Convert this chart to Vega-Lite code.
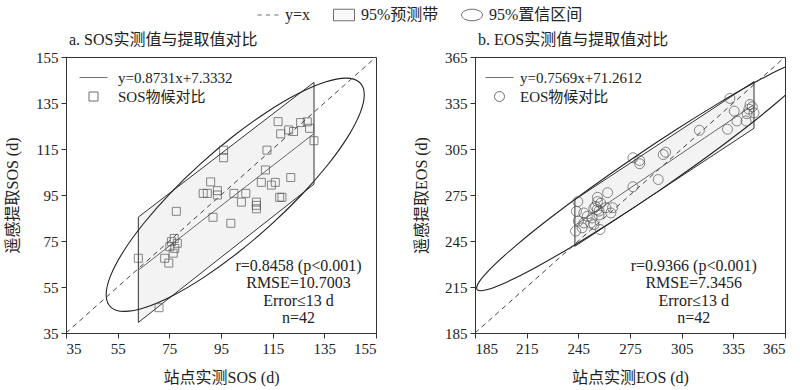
{
"$schema": "https://vega.github.io/schema/vega-lite/v6.json",
"padding": {"left": 4, "top": 4, "right": 2, "bottom": 2},
"background": "white",
"datasets": {
"sos": [{"x":63,"y":67.5},{"x":71,"y":46},{"x":74.8,"y":65.4},{"x":73.2,"y":67.5},{"x":76.5,"y":69.7},{"x":76.9,"y":76.1},{"x":78.1,"y":74},{"x":75.8,"y":74.7},{"x":77.1,"y":71.8},{"x":75.2,"y":72.5},{"x":77.7,"y":87.9},{"x":91.9,"y":85.3},{"x":98.8,"y":82.7},{"x":88.1,"y":95.7},{"x":89.7,"y":95.7},{"x":91,"y":100.7},{"x":93.6,"y":96.9},{"x":93.6,"y":95},{"x":100,"y":95.7},{"x":104.6,"y":95.7},{"x":102.9,"y":91.9},{"x":108.7,"y":91.9},{"x":108.7,"y":90.5},{"x":108.7,"y":89},{"x":110.6,"y":100.5},{"x":112.2,"y":105.9},{"x":112.8,"y":114.5},{"x":114.5,"y":99.3},{"x":116,"y":100.5},{"x":117.7,"y":94},{"x":118.6,"y":94},{"x":122,"y":102.6},{"x":96,"y":114.5},{"x":96,"y":111.2},{"x":117.1,"y":126.9},{"x":118.1,"y":121.6},{"x":121.2,"y":123.3},{"x":123.1,"y":122.6},{"x":125.8,"y":126.5},{"x":128.4,"y":126.8},{"x":129.3,"y":124},{"x":131,"y":118.6}],
"eos": [{"x":333,"y":338},{"x":335.5,"y":329.7},{"x":344.7,"y":334},{"x":344,"y":331},{"x":346,"y":332.5},{"x":347,"y":328.5},{"x":343,"y":328},{"x":337.1,"y":323.3},{"x":342.4,"y":323.3},{"x":331.6,"y":317.9},{"x":315.3,"y":317.2},{"x":294.3,"y":301.4},{"x":295.7,"y":302.9},{"x":276.7,"y":299.3},{"x":280.6,"y":297.5},{"x":280.6,"y":295.4},{"x":291.4,"y":285.1},{"x":276.7,"y":280.4},{"x":262,"y":276.5},{"x":256.1,"y":273.5},{"x":244.7,"y":270.7},{"x":243.9,"y":264.3},{"x":243.4,"y":251.4},{"x":247.2,"y":253.6},{"x":248.2,"y":263.3},{"x":252.2,"y":256.8},{"x":254,"y":266.5},{"x":255,"y":267.5},{"x":256,"y":265.5},{"x":257,"y":264.5},{"x":258,"y":269.7},{"x":257.6,"y":252.5},{"x":254.1,"y":255.7},{"x":261,"y":266.7},{"x":263.9,"y":263.3},{"x":264.9,"y":266.7},{"x":250.2,"y":261.1},{"x":248.2,"y":256.8},{"x":256.1,"y":270.7},{"x":245,"y":258},{"x":253,"y":260},{"x":257,"y":262}],
"ellA": [{"t":0,"x":148.58,"y":144.03},{"t":1,"x":143.43,"y":145.81},{"t":2,"x":135.36,"y":144.13},{"t":3,"x":124.92,"y":139.12},{"t":4,"x":112.81,"y":131.11},{"t":5,"x":99.85,"y":120.63},{"t":6,"x":86.95,"y":108.42},{"t":7,"x":74.97,"y":95.31},{"t":8,"x":64.73,"y":82.17},{"t":9,"x":56.92,"y":69.92},{"t":10,"x":52.08,"y":59.39},{"t":11,"x":50.55,"y":51.29},{"t":12,"x":52.42,"y":46.17},{"t":13,"x":57.57,"y":44.39},{"t":14,"x":65.64,"y":46.07},{"t":15,"x":76.08,"y":51.08},{"t":16,"x":88.19,"y":59.09},{"t":17,"x":101.15,"y":69.57},{"t":18,"x":114.05,"y":81.78},{"t":19,"x":126.03,"y":94.89},{"t":20,"x":136.27,"y":108.03},{"t":21,"x":144.08,"y":120.28},{"t":22,"x":148.92,"y":130.81},{"t":23,"x":150.45,"y":138.91}],
"ellB": [{"t":0,"x":381.78,"y":363.12},{"t":1,"x":376.4,"y":363.24},{"t":2,"x":364.72,"y":358.24},{"t":3,"x":347.55,"y":348.48},{"t":4,"x":326.04,"y":334.6},{"t":5,"x":301.67,"y":317.56},{"t":6,"x":276.09,"y":298.52},{"t":7,"x":251.05,"y":278.78},{"t":8,"x":228.26,"y":259.68},{"t":9,"x":209.27,"y":242.52},{"t":10,"x":195.36,"y":228.48},{"t":11,"x":187.5,"y":218.5},{"t":12,"x":186.22,"y":213.28},{"t":13,"x":191.6,"y":213.16},{"t":14,"x":203.28,"y":218.16},{"t":15,"x":220.45,"y":227.92},{"t":16,"x":241.96,"y":241.8},{"t":17,"x":266.33,"y":258.84},{"t":18,"x":291.91,"y":277.88},{"t":19,"x":316.95,"y":297.62},{"t":20,"x":339.74,"y":316.72},{"t":21,"x":358.73,"y":333.88},{"t":22,"x":372.64,"y":347.92},{"t":23,"x":380.5,"y":357.9}],
"bandA": [{"x":63,"y":85.4,"lo":39.6},{"x":131,"y":144,"lo":99.7}],
"bandB": [{"x":243,"y":272,"lo":241.5},{"x":347,"y":349,"lo":318.5}],
"regA": [{"x":63,"y":62.34},{"x":131,"y":121.71}],
"regB": [{"x":243,"y":255.19},{"x":347,"y":333.98}],
"diagA": [{"x":35,"y":35},{"x":155,"y":155}],
"diagB": [{"x":185,"y":185},{"x":365,"y":365}],
"keys": [{"k":"y=x"},{"k":"95%预测带"},{"k":"95%置信区间"}],
"annA": [{"t":"r=0.8458 (p<0.001)"}],
"annA2": [{"t":"RMSE=10.7003"}],
"annA3": [{"t":"Error≤13 d"}],
"annA4": [{"t":"n=42"}],
"annB": [{"t":"r=0.9366 (p<0.001)"}],
"annB2": [{"t":"RMSE=7.3456"}]
},
"vconcat": [
{
"width": 1, "height": 1,
"view": {"stroke": null},
"data": {"name": "keys"},
"mark": {"type": "point", "filled": true, "clip": true, "strokeWidth": 1},
"encoding": {
"x": {"datum": 5, "type": "quantitative", "scale": {"domain": [0, 1]}, "axis": null},
"y": {"datum": 5, "type": "quantitative", "scale": {"domain": [0, 1]}, "axis": null},
"shape": {"field": "k", "type": "nominal", "scale": {"domain": ["y=x", "95%预测带", "95%置信区间"], "range": ["M-1,0H-0.6M-0.2,0H0.2M0.6,0H1", "M-1,-0.55H1V0.55H-1Z", "M-1,0A1,0.55 0 1,0 1,0A1,0.55 0 1,0 -1,0Z"]},
 "legend": {"title": null, "orient": "none", "legendX": 191, "legendY": 0, "direction": "horizontal", "symbolSize": 441, "labelFontSize": 16, "labelOffset": 6, "columnPadding": 20, "padding": 0, "symbolStrokeWidth": 1}},
"fill": {"field": "k", "type": "nominal", "scale": {"domain": ["y=x", "95%预测带", "95%置信区间"], "range": ["transparent", "#f2f2f2", "#ffffff"]},
 "legend": {"title": null, "orient": "none", "legendX": 191, "legendY": 0, "direction": "horizontal", "symbolSize": 441, "labelFontSize": 16, "labelOffset": 6, "columnPadding": 20, "padding": 0, "symbolStrokeWidth": 1}},
"stroke": {"field": "k", "type": "nominal", "scale": {"domain": ["y=x", "95%预测带", "95%置信区间"], "range": ["#333", "#333", "#333"]},
 "legend": {"title": null, "orient": "none", "legendX": 191, "legendY": 0, "direction": "horizontal", "symbolSize": 441, "labelFontSize": 16, "labelOffset": 6, "columnPadding": 20, "padding": 0, "symbolStrokeWidth": 1}}
}
},
{
"hconcat": [
{
"width": 310, "height": 276,
"title": {"text": "a. SOS实测值与提取值对比", "dx": 3, "offset": 2, "frame": "group"},
"layer": [
{"data": {"name": "bandA"}, "mark": {"type": "area", "fill": "#f3f3f3", "stroke": "#333", "strokeWidth": 1},
 "encoding": {
  "x": {"field": "x", "type": "quantitative", "scale": {"domain": [35, 155], "nice": false, "zero": false}, "axis": {"title": "站点实测SOS (d)", "values": [35, 55, 75, 95, 115, 135, 155]}},
  "y": {"field": "y", "type": "quantitative", "scale": {"domain": [35, 155], "nice": false, "zero": false}, "axis": {"title": "遥感提取SOS (d)", "values": [35, 55, 75, 95, 115, 135, 155]}},
  "y2": {"field": "lo"}}},
{"data": {"name": "ellA"}, "mark": {"type": "line", "interpolate": "cardinal-closed", "stroke": "#222", "strokeWidth": 1.1, "clip": true},
 "encoding": {"x": {"field": "x", "type": "quantitative", "title": "站点实测SOS (d)"}, "y": {"field": "y", "type": "quantitative", "title": "遥感提取SOS (d)"}, "order": {"field": "t", "type": "quantitative"}}},
{"data": {"name": "diagA"}, "mark": {"type": "line", "stroke": "#444", "strokeWidth": 1, "strokeDash": [5, 4]},
 "encoding": {"x": {"field": "x", "type": "quantitative", "title": "站点实测SOS (d)"}, "y": {"field": "y", "type": "quantitative", "title": "遥感提取SOS (d)"}}},
{"data": {"name": "regA"}, "mark": {"type": "line", "stroke": "#666", "strokeWidth": 1},
 "encoding": {"x": {"field": "x", "type": "quantitative", "title": "站点实测SOS (d)"}, "y": {"field": "y", "type": "quantitative", "title": "遥感提取SOS (d)"}}},
{"data": {"name": "sos"}, "mark": {"type": "point", "filled": false, "stroke": "#555", "strokeWidth": 1, "size": 316},
 "encoding": {"x": {"field": "x", "type": "quantitative", "title": "站点实测SOS (d)"}, "y": {"field": "y", "type": "quantitative", "title": "遥感提取SOS (d)"},
  "shape": {"datum": "SOS物候对比", "type": "nominal", "scale": {"domain": ["y=0.8731x+7.3332", "SOS物候对比"], "range": ["M-1.4,0H1.4", "M-0.45,-0.45H0.45V0.45H-0.45Z"]},
  "legend": {"title": null, "orient": "none", "legendX": 17, "legendY": 10, "symbolSize": 400, "labelOffset": 14, "rowPadding": 0, "padding": 0, "labelFontSize": 15, "symbolStrokeColor": "#333", "symbolStrokeWidth": 1, "symbolFillColor": "transparent"}}}},
{"data": {"name": "annA"}, "mark": {"type": "text", "align": "center", "baseline": "middle", "fontSize": 16, "color": "#222"},
 "encoding": {"x": {"datum": 125, "type": "quantitative", "title": "站点实测SOS (d)"}, "y": {"datum": 64.1, "type": "quantitative", "title": "遥感提取SOS (d)"}, "text": {"field": "t"}}},
{"data": {"name": "annA2"}, "mark": {"type": "text", "align": "center", "baseline": "middle", "fontSize": 16, "color": "#222"},
 "encoding": {"x": {"datum": 125, "type": "quantitative", "title": "站点实测SOS (d)"}, "y": {"datum": 56.7, "type": "quantitative", "title": "遥感提取SOS (d)"}, "text": {"field": "t"}}},
{"data": {"name": "annA3"}, "mark": {"type": "text", "align": "center", "baseline": "middle", "fontSize": 16, "color": "#222"},
 "encoding": {"x": {"datum": 125, "type": "quantitative", "title": "站点实测SOS (d)"}, "y": {"datum": 48.9, "type": "quantitative", "title": "遥感提取SOS (d)"}, "text": {"field": "t"}}},
{"data": {"name": "annA4"}, "mark": {"type": "text", "align": "center", "baseline": "middle", "fontSize": 16, "color": "#222"},
 "encoding": {"x": {"datum": 125, "type": "quantitative", "title": "站点实测SOS (d)"}, "y": {"datum": 41.5, "type": "quantitative", "title": "遥感提取SOS (d)"}, "text": {"field": "t"}}}
]
},
{
"width": 310, "height": 276,
"title": {"text": "b. EOS实测值与提取值对比", "dx": 3, "offset": 2, "frame": "group"},
"layer": [
{"data": {"name": "bandB"}, "mark": {"type": "area", "fill": "#f3f3f3", "stroke": "#333", "strokeWidth": 1},
 "encoding": {
  "x": {"field": "x", "type": "quantitative", "scale": {"domain": [185, 365], "nice": false, "zero": false}, "axis": {"title": "站点实测EOS (d)", "values": [185, 215, 245, 275, 305, 335, 365]}},
  "y": {"field": "y", "type": "quantitative", "scale": {"domain": [185, 365], "nice": false, "zero": false}, "axis": {"title": "遥感提取EOS (d)", "values": [185, 215, 245, 275, 305, 335, 365]}},
  "y2": {"field": "lo"}}},
{"data": {"name": "ellB"}, "mark": {"type": "line", "interpolate": "cardinal-closed", "stroke": "#222", "strokeWidth": 1.1, "clip": true},
 "encoding": {"x": {"field": "x", "type": "quantitative", "title": "站点实测EOS (d)"}, "y": {"field": "y", "type": "quantitative", "title": "遥感提取EOS (d)"}, "order": {"field": "t", "type": "quantitative"}}},
{"data": {"name": "diagB"}, "mark": {"type": "line", "stroke": "#444", "strokeWidth": 1, "strokeDash": [5, 4]},
 "encoding": {"x": {"field": "x", "type": "quantitative", "title": "站点实测EOS (d)"}, "y": {"field": "y", "type": "quantitative", "title": "遥感提取EOS (d)"}}},
{"data": {"name": "regB"}, "mark": {"type": "line", "stroke": "#666", "strokeWidth": 1},
 "encoding": {"x": {"field": "x", "type": "quantitative", "title": "站点实测EOS (d)"}, "y": {"field": "y", "type": "quantitative", "title": "遥感提取EOS (d)"}}},
{"data": {"name": "eos"}, "mark": {"type": "point", "filled": false, "stroke": "#555", "strokeWidth": 1, "size": 400},
 "encoding": {"x": {"field": "x", "type": "quantitative", "title": "站点实测EOS (d)"}, "y": {"field": "y", "type": "quantitative", "title": "遥感提取EOS (d)"},
  "shape": {"datum": "EOS物候对比", "type": "nominal", "scale": {"domain": ["y=0.7569x+71.2612", "EOS物候对比"], "range": ["M-1.4,0H1.4", "M-0.5,0A0.5,0.5 0 1,0 0.5,0A0.5,0.5 0 1,0 -0.5,0Z"]},
  "legend": {"title": null, "orient": "none", "legendX": 14, "legendY": 10, "symbolSize": 400, "labelOffset": 10, "rowPadding": 0, "padding": 0, "labelFontSize": 15, "symbolStrokeColor": "#333", "symbolStrokeWidth": 1, "symbolFillColor": "transparent"}}}},
{"data": {"name": "annB"}, "mark": {"type": "text", "align": "center", "baseline": "middle", "fontSize": 16, "color": "#222"},
 "encoding": {"x": {"datum": 312, "type": "quantitative", "title": "站点实测EOS (d)"}, "y": {"datum": 228.7, "type": "quantitative", "title": "遥感提取EOS (d)"}, "text": {"field": "t"}}},
{"data": {"name": "annB2"}, "mark": {"type": "text", "align": "center", "baseline": "middle", "fontSize": 16, "color": "#222"},
 "encoding": {"x": {"datum": 312, "type": "quantitative", "title": "站点实测EOS (d)"}, "y": {"datum": 217.6, "type": "quantitative", "title": "遥感提取EOS (d)"}, "text": {"field": "t"}}},
{"data": {"name": "annA3"}, "mark": {"type": "text", "align": "center", "baseline": "middle", "fontSize": 16, "color": "#222"},
 "encoding": {"x": {"datum": 312, "type": "quantitative", "title": "站点实测EOS (d)"}, "y": {"datum": 205.8, "type": "quantitative", "title": "遥感提取EOS (d)"}, "text": {"field": "t"}}},
{"data": {"name": "annA4"}, "mark": {"type": "text", "align": "center", "baseline": "middle", "fontSize": 16, "color": "#222"},
 "encoding": {"x": {"datum": 312, "type": "quantitative", "title": "站点实测EOS (d)"}, "y": {"datum": 194.7, "type": "quantitative", "title": "遥感提取EOS (d)"}, "text": {"field": "t"}}}
]
}
],
"spacing": 34,
"resolve": {"scale": {"x": "independent", "y": "independent", "shape": "independent"}, "legend": {"shape": "independent"}}
}
],
"spacing": 8,
"resolve": {"scale": {"x": "independent", "y": "independent", "shape": "independent", "fill": "independent", "stroke": "independent"}, "legend": {"shape": "independent", "fill": "independent", "stroke": "independent"}},
"config": {
"font": "Liberation Serif, Noto Sans CJK SC",
"view": {"stroke": "#333", "strokeWidth": 1},
"axis": {"grid": false, "domainColor": "#333", "tickColor": "#333", "labelColor": "#222", "titleColor": "#222", "labelFontSize": 15, "titleFontSize": 16, "titleFontWeight": "normal", "tickSize": 5, "labelPadding": 3, "labelFont": "Liberation Serif, Noto Sans CJK SC", "titleFont": "Liberation Serif, Noto Sans CJK SC"},
"axisX": {"titlePadding": 13},
"axisY": {"titlePadding": 15},
"legend": {"labelFont": "Liberation Serif, Noto Sans CJK SC", "labelColor": "#222"},
"title": {"font": "Liberation Serif, Noto Sans CJK SC", "fontSize": 16, "fontWeight": "normal", "anchor": "start", "color": "#222"}
}
}
